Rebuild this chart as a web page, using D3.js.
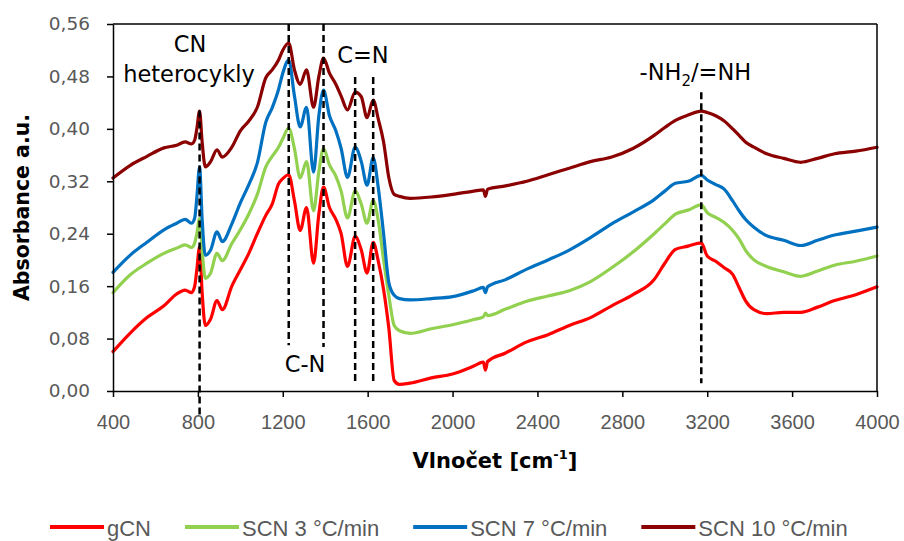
<!DOCTYPE html>
<html><head><meta charset="utf-8">
<script src="https://cdn.jsdelivr.net/npm/d3@7"></script>
<style>body{margin:0;background:#fff} svg{display:block}</style>
</head><body><svg id="chart" width="904" height="541"></svg>
<script>
const wavenumbers = [400,480,560,640,700,740,770,785,795,808,820,835,860,890,915,960,1000,1040,1080,1120,1150,1180,1200,1228,1255,1282,1312,1345,1370,1392,1420,1450,1475,1505,1541,1570,1597,1626,1650,1675,1700,1725,1750,1800,1900,2000,2100,2145,2155,2165,2250,2350,2450,2550,2650,2750,2850,2950,3000,3050,3110,3172,3200,3240,3280,3320,3350,3380,3420,3480,3560,3640,3720,3800,3900,4000];
const gCN = [.060,.088,.112,.130,.148,.154,.150,.160,.185,.220,.150,.100,.110,.138,.124,.160,.185,.210,.240,.268,.285,.316,.324,.330,.290,.245,.280,.195,.270,.311,.280,.262,.240,.190,.236,.215,.180,.227,.198,.155,.095,.016,.010,.012,.020,.026,.038,.044,.032,.045,.058,.075,.086,.100,.112,.130,.147,.170,.195,.216,.221,.226,.206,.198,.188,.178,.158,.138,.124,.118,.120,.120,.128,.138,.147,.159];
const scn3 = [.150,.177,.195,.210,.218,.223,.219,.226,.240,.263,.215,.172,.180,.210,.199,.225,.246,.270,.300,.342,.358,.372,.385,.401,.370,.325,.350,.275,.335,.370,.345,.328,.305,.264,.305,.285,.256,.291,.260,.200,.145,.100,.092,.088,.095,.101,.109,.113,.119,.115,.125,.137,.145,.153,.167,.188,.212,.240,.255,.270,.276,.284,.272,.265,.257,.245,.232,.215,.200,.190,.182,.175,.183,.192,.198,.206];
const scn7 = [.181,.207,.227,.246,.256,.262,.256,.264,.295,.342,.262,.207,.215,.243,.228,.255,.287,.315,.348,.410,.432,.460,.485,.505,.450,.403,.433,.334,.420,.459,.420,.397,.370,.326,.372,.350,.314,.356,.310,.240,.165,.146,.141,.139,.141,.144,.153,.158,.150,.159,.170,.186,.200,.215,.234,.255,.273,.292,.305,.317,.320,.329,.322,.315,.308,.290,.275,.262,.250,.237,.230,.222,.230,.238,.244,.250];
const scn10 = [.325,.344,.358,.371,.375,.380,.377,.383,.400,.427,.380,.342,.350,.368,.357,.372,.397,.412,.433,.478,.490,.505,.520,.531,.490,.468,.490,.433,.480,.508,.485,.468,.450,.429,.456,.449,.417,.444,.415,.380,.325,.300,.297,.294,.296,.300,.305,.307,.297,.308,.313,.320,.330,.340,.350,.357,.370,.390,.402,.413,.421,.427,.425,.420,.412,.400,.390,.380,.372,.362,.355,.349,.355,.362,.366,.372];
const seriesNames = ["gCN","SCN 3 °C/min","SCN 7 °C/min","SCN 10 °C/min"];
const seriesValues = [gCN, scn3, scn7, scn10];
const seriesColors = ["#FF0000","#92D050","#0070C0","#8B0000"];
const xTicks = [400,800,1200,1600,2000,2400,2800,3200,3600,4000];
const yTicks = [0,0.08,0.16,0.24,0.32,0.40,0.48,0.56];
const markerX = [808,1228,1392,1541,1626,3172];
const markerTop = [0.428,0.56,0.56,0.479,0.479,0.456];
const markerBottom = [-0.042,0.07,0.067,0.01,0.01,0.012];
const annotationText = ["CN","heterocykly","C-N","C=N","-NH2/=NH"];
const annotationX = [763,758,1305,1578,3144];
const annotationY = [0.517,0.4715,0.029,0.5005,0.4746];

const svg = d3.select("#chart");
const x = d3.scaleLinear().domain([400,4000]).range([113,877]);
const y = d3.scaleLinear().domain([0,0.56]).range([391,24]);

// series
const line = d3.line().x((d,i)=>x(wavenumbers[i])).y(d=>y(d)).curve(d3.curveMonotoneX);
svg.append("g").selectAll("path").data(seriesValues).join("path")
  .attr("d", line).attr("fill","none")
  .attr("stroke",(d,i)=>seriesColors[i]).attr("stroke-width",3.2)
  .attr("stroke-linejoin","round").attr("stroke-linecap","round");

// frame
svg.append("line").attr("x1",x(400)).attr("x2",x(4000)).attr("y1",y(0.56)).attr("y2",y(0.56)).attr("stroke","#000").attr("stroke-width",1.5);
svg.append("line").attr("x1",x(4000)).attr("x2",x(4000)).attr("y1",y(0.56)).attr("y2",y(0)).attr("stroke","#000").attr("stroke-width",1.5);

// axes
const fmt = d3.format(".2f");
const yAxis = svg.append("g").attr("transform",`translate(${x(400)},0)`)
  .call(d3.axisLeft(y).tickValues(yTicks).tickSize(6).tickSizeOuter(0).tickPadding(17).tickFormat(d=>fmt(d).replace(".",",")));
yAxis.selectAll("text").attr("font-family","DejaVu Sans, sans-serif").attr("font-size",18.5).attr("fill","#595959");
const xAxis = svg.append("g").attr("transform",`translate(0,${y(0)})`)
  .call(d3.axisBottom(x).tickValues(xTicks).tickSize(6).tickSizeOuter(0).tickPadding(18).tickFormat(d3.format("d")));
xAxis.selectAll("text").attr("font-family","Liberation Sans, Arial, sans-serif").attr("font-size",20).attr("fill","#595959");
[xAxis,yAxis].forEach(a=>{a.select(".domain").attr("stroke","#000").attr("stroke-width",1.5);a.selectAll(".tick line").attr("stroke","#000").attr("stroke-width",1.5);});

// marker dashed lines
svg.append("g").selectAll("line").data(markerX).join("line")
  .attr("x1",d=>x(d)).attr("x2",d=>x(d))
  .attr("y1",(d,i)=>y(markerTop[i])).attr("y2",(d,i)=>y(markerBottom[i]))
  .attr("stroke","#000").attr("stroke-width",2.5).attr("stroke-dasharray","7,4");

// annotations
const ann = svg.append("g").attr("font-family","DejaVu Sans, sans-serif").attr("font-size",22.5).attr("fill","#000").attr("text-anchor","middle");
annotationText.forEach((t,i)=>{
  const tx = ann.append("text").attr("x",x(annotationX[i])).attr("y",y(annotationY[i]));
  if (t.includes("NH2")) {
    tx.append("tspan").text("-NH");
    tx.append("tspan").text("2").attr("font-size",15).attr("dy",6);
    tx.append("tspan").text("/=NH").attr("dy",-6);
  } else tx.text(t);
});

// axis titles
svg.append("text").attr("transform",`translate(29,${(y(0)+y(0.56))/2}) rotate(-90)`)
  .attr("text-anchor","middle").attr("font-family","DejaVu Sans, sans-serif").attr("font-weight","bold").attr("font-size",20.5).attr("fill","#000")
  .text("Absorbance a.u.");
const xt = svg.append("text").attr("x",495).attr("y",468).attr("text-anchor","middle")
  .attr("font-family","DejaVu Sans, sans-serif").attr("font-weight","bold").attr("font-size",21).attr("fill","#000");
xt.append("tspan").text("Vlnočet [cm");
xt.append("tspan").text("-1").attr("font-size",13).attr("dy",-9);
xt.append("tspan").text("]").attr("dy",9);

// legend
const leg = svg.append("g");
let lx = 50;
seriesNames.forEach((n,i)=>{
  leg.append("line").attr("x1",lx).attr("x2",lx+54).attr("y1",527).attr("y2",527)
    .attr("stroke",seriesColors[i]).attr("stroke-width",4);
  const t = leg.append("text").attr("x",lx+57).attr("y",536)
    .attr("font-family","Liberation Sans, Arial, sans-serif").attr("font-size",22).attr("fill","#595959").text(n);
  lx += 57 + t.node().getComputedTextLength() + 34;
});
</script></body></html>
